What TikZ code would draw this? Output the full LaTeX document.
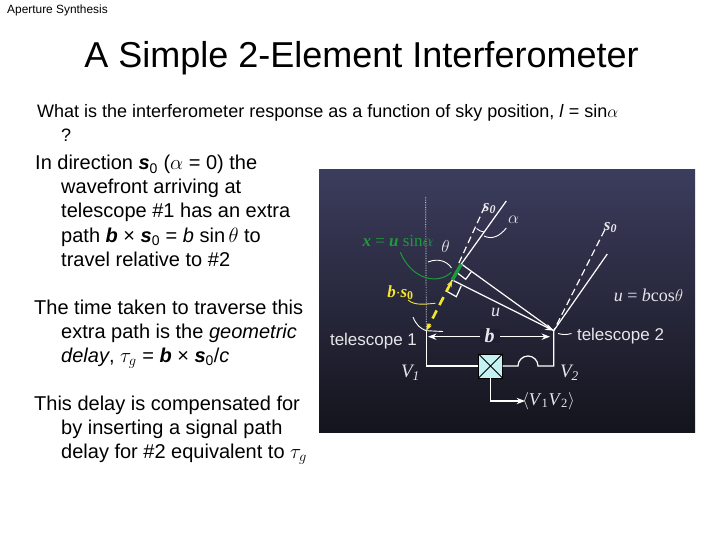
\documentclass[tikz,border=0pt]{standalone}
\usepackage{amsmath}
\usepackage{fontspec}
\setmainfont{Liberation Sans}
\newfontfamily\labelfont{Liberation Serif}
\usetikzlibrary{
    arrows.meta,
    calc,
    positioning
}
\definecolor{panelTop}{HTML}{3C3C5E}
\definecolor{panelMid}{HTML}{23233A}
\definecolor{panelEnd}{HTML}{14141C}
\definecolor{labelGrey}{HTML}{E6E6EA}
\definecolor{pathGreen}{HTML}{1E9A3C}
\definecolor{pathYellow}{HTML}{F2E62E}
\definecolor{boxCyan}{HTML}{C4F2F2}
\newcommand{\szero}{\textbf{\textit{s}}\textsubscript{0}}
\newcommand{\bvec}{\textbf{\textit{b}}}
\tikzset{
    txt/.style={anchor=base west, inner sep=0pt, font=\fontsize{20}{20}\selectfont},
    wire/.style={draw=white, line width=1.2pt},
    raydash/.style={draw=white, line width=1.2pt, dash pattern=on 7pt off 4pt},
    thin mark/.style={white, line width=0.9pt},
    lbl/.style={inner sep=0pt, text=labelGrey, font=\labelfont\fontsize{17}{17}\selectfont},
    scope label/.style={inner sep=0pt, text=labelGrey, font=\fontsize{17}{17}\selectfont}
}
\begin{document}
\begin{tikzpicture}[x=1pt, y=-1pt, >=Stealth]
    \useasboundingbox[fill=white] (0,0) rectangle (720,540);

    % slide texts
    \node[anchor=base west, inner sep=0pt, font=\fontsize{11.9}{12}\selectfont] (header) at (7,14) {Aperture Synthesis};
    \node[anchor=base, inner sep=0pt, font=\fontsize{36}{36}\selectfont] (title) at (361.5,68) {A Simple 2-Element Interferometer};

    \node[txt, font=\fontsize{18}{18}\selectfont] (q1) at (37,118) {What is the interferometer response as a function of sky position, \textit{l} = sin$\alpha$};
    \node[txt, font=\fontsize{18}{18}\selectfont] (q2) at (61,142) {?};
    \node[txt] (a1) at (35,170) {In direction \szero{} ($\alpha$ = 0) the};
    \node[txt] (a2) at (61,194) {wavefront arriving at};
    \node[txt] (a3) at (61,218) {telescope \#1 has an extra};
    \node[txt] (a4) at (61,242) {path \bvec{} × \szero{} = \textit{b} sin$\,\theta$ to};
    \node[txt] (a5) at (61,266) {travel relative to \#2};
    \node[txt] (b1) at (34,314) {The time taken to traverse this};
    \node[txt] (b2) at (61,338) {extra path is the \textit{geometric}};
    \node[txt] (b3) at (61,362) {\textit{delay}, $\tau_g$ = \bvec{} × \szero{}/\textit{c}};
    \node[txt] (c1) at (34,410) {This delay is compensated for};
    \node[txt] (c2) at (61,434) {by inserting a signal path};
    \node[txt] (c3) at (61,458) {delay for \#2 equivalent to $\tau_g$};

    % dark panel
    \fill[top color=panelTop, middle color=panelMid, bottom color=panelEnd] (319,170) rectangle (695,432);

    \coordinate (T1) at (426.3,330.7);
    \coordinate (T2) at (553.7,330.7);
    \coordinate (V1) at (426.3,366);
    \coordinate (V2) at (553.7,366);
    \coordinate (Pa) at (461.3,264);
    \coordinate (Pb) at (452.3,280);
    \coordinate (Sa) at (506.3,201);
    \coordinate (Da) at (484.7,206.7);
    \coordinate (De) at (458,265);
    \coordinate (Sb) at (607.3,254);
    \coordinate (Db) at (604.7,230);
    \coordinate (Top) at (425.7,197);
    \coordinate (Ba) at (428,336.7);
    \coordinate (Bb) at (550,336.7);
    \coordinate (Dl) at (518,366);
    \coordinate (Ou) at (490.5,401);
    \coordinate (Oe) at (525,401);

    % baseline and correlator
    \node[draw=black, fill=boxCyan, minimum width=24pt, minimum height=24pt, inner sep=0pt] (corr) at (490.5,366) {};
    \draw[black, line width=0.8pt] (corr.north west) -- (corr.south east) (corr.north east) -- (corr.south west);
    \draw[wire] (T1) -- (V1) -- (corr.west);
    \draw[wire] (corr.east) -- (Dl) arc[start angle=180, end angle=360, radius=10] -- (V2) -- (T2);
    \draw[wire, ->] (corr.south) -- (Ou) -- (Oe);
    \node[lbl, font=\labelfont\fontsize{18}{18}\selectfont] (vv) at (548.5,401) {$\langle$\textit{V}\textsubscript{1}\textit{V}\textsubscript{2}$\rangle$};

    \draw[wire, <->] (Ba) -- (Bb);
    \node[lbl, fill=panelMid!70!panelEnd, inner xsep=5pt, font=\labelfont\bfseries\itshape\fontsize{20}{20}\selectfont] (blab) at (489.7,336) {b};

    % rays
    \draw[white, densely dotted, line width=0.7pt] (Top) -- (T1);
    \draw[wire] (Sa) -- (Pa);
    \draw[raydash] (Da) -- (De);
    \draw[wire] (Sb) -- (T2);
    \draw[raydash] (Db) -- (T2);
    \draw[wire] (Pa) -- (T2);
    \draw[wire, ->] (Pb) -- (T2);

    % right angles
    \draw[wire] (471.3,271.7) -- (465.7,279.3) -- (455.7,271.7);
    \draw[wire] (461.3,285.7) -- (456.3,296.7) -- (446.3,291) -- (Pb);

    % extra paths
    \draw[pathGreen, line width=3.4pt] (Pa) -- (Pb);
    \draw[pathYellow, line width=2.6pt, dash pattern=on 9pt off 6pt, <->, >={Stealth[length=7pt]}] (Pb) -- (T1);

    % angle marks and leaders
    \draw[thin mark] (476.5,228.5) to[bend right=15] (484,232);
    \draw[thin mark] (484,236) .. controls (492,240) and (500,236) .. (506.3,228);
    \draw[thin mark] (428,262) .. controls (438,258) and (447,261) .. (451.5,268);
    \draw[pathGreen, line width=1pt] (400.3,252.3) .. controls (412,280) and (438,285) .. (451.3,272.3);
    \draw[pathYellow, line width=0.9pt] (408,300) .. controls (415,306) and (425,304) .. (435.3,303.3);
    \draw[thin mark] (413,317) .. controls (416,325) and (421,329) .. (426.3,330.7) -- (443,331.5);
    \draw[thin mark] (558,333.5) to[bend right=15] (571.5,333.5);

    % labels
    \node[lbl, font=\labelfont\bfseries\itshape\fontsize{17}{17}\selectfont] (sa) at (489.5,208.5) {s\textsubscript{0}};
    \node[lbl, font=\labelfont\bfseries\itshape\fontsize{17}{17}\selectfont] (sb) at (610.5,227.5) {s\textsubscript{0}};
    \node[lbl, font=\labelfont\fontsize{19}{19}\selectfont] (alab) at (513.5,220) {$\alpha$};
    \node[lbl, font=\labelfont\fontsize{19}{19}\selectfont] (tlab) at (445.5,246) {$\theta$};
    \node[lbl, text=pathGreen] (xlab) at (398,241) {\textit{\textbf{x}} = \textit{\textbf{u}} sin$\alpha$};
    \node[lbl, text=pathYellow, font=\labelfont\bfseries\fontsize{17}{17}\selectfont] (dlab) at (400.5,292.5) {\textit{b}$\cdot$\textit{s}\textsubscript{0}};
    \node[lbl, font=\labelfont\itshape\fontsize{18}{18}\selectfont] (ulab) at (495.5,312.5) {u};
    \node[lbl, font=\labelfont\fontsize{18}{18}\selectfont] (uform) at (648.5,295) {\textit{u} = \textit{b}cos$\theta$};
    \node[scope label] (tone) at (373.5,341) {telescope 1};
    \node[scope label] (ttwo) at (620.5,336) {telescope 2};
    \node[lbl, font=\labelfont\itshape\fontsize{19}{19}\selectfont] (vone) at (410.5,373) {V\textsubscript{1}};
    \node[lbl, font=\labelfont\itshape\fontsize{19}{19}\selectfont] (vtwo) at (569.5,373) {V\textsubscript{2}};
\end{tikzpicture}
\end{document}
